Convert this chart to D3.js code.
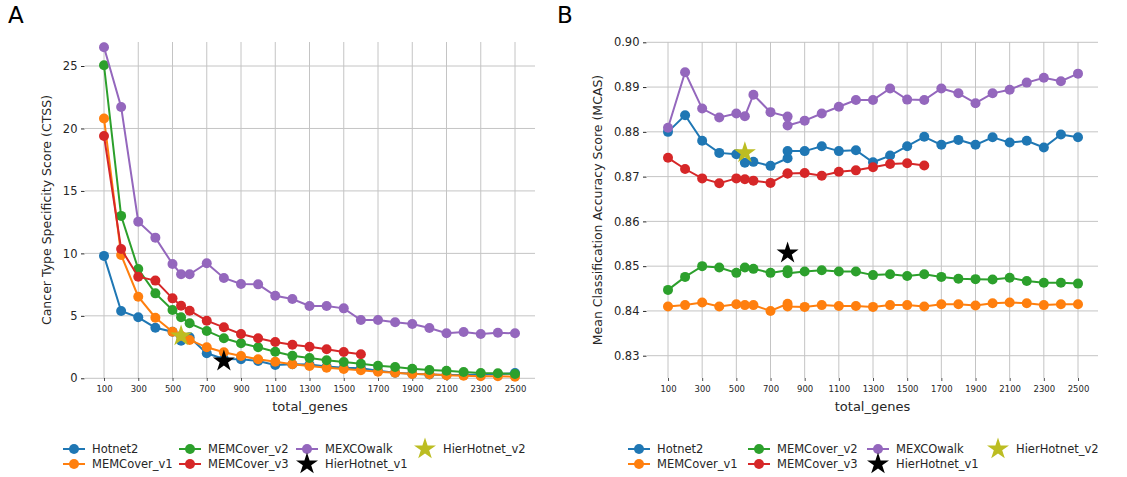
<!DOCTYPE html>
<html>
<head>
<meta charset="utf-8">
<script src="https://cdn.jsdelivr.net/npm/d3@7/dist/d3.min.js"></script>
<style>
  html, body { margin: 0; padding: 0; background: #fff; }
  svg { display: block; font-family: "DejaVu Sans", sans-serif; }
</style>
</head>
<body>
<svg id="chart" width="1127" height="477"></svg>
<script>
// ---- data ----------------------------------------------------------------
const seriesNames = ["Hotnet2", "MEMCover_v1", "MEMCover_v2", "MEMCover_v3", "MEXCOwalk"];
const seriesColors = ["#1f77b4", "#ff7f0e", "#2ca02c", "#d62728", "#9467bd"];
const starNames = ["HierHotnet_v1", "HierHotnet_v2"];
const starColors = ["#000000", "#bcbd22"];
const xTicks = [100, 300, 500, 700, 900, 1100, 1300, 1500, 1700, 1900, 2100, 2300, 2500];

// Panel A: CTSS
const genesA = [100, 200, 300, 400, 500, 550, 600, 700, 800, 900, 1000, 1100, 1200, 1300, 1400, 1500, 1600, 1700, 1800, 1900, 2000, 2100, 2200, 2300, 2400, 2500];
const ctssHotnet2 = [9.8, 5.39, 4.88, 4.05, 3.73, 3.01, 3.28, 2.0, 1.55, 1.52, 1.38, 1.06, 1.12, 1.1, 0.95, 0.85, 0.8, 0.6, 0.45, 0.36, 0.3, 0.26, 0.26, 0.3, 0.32, 0.42];
const ctssMEMCoverV1 = [20.8, 9.87, 6.53, 4.85, 3.73, 3.4, 3.07, 2.48, 2.08, 1.79, 1.52, 1.33, 1.13, 0.98, 0.85, 0.74, 0.64, 0.53, 0.45, 0.34, 0.32, 0.24, 0.21, 0.16, 0.16, 0.13];
const ctssMEMCoverV2 = [25.06, 13.0, 8.75, 6.8, 5.47, 4.88, 4.4, 3.79, 3.2, 2.8, 2.48, 2.13, 1.81, 1.63, 1.44, 1.3, 1.17, 1.01, 0.9, 0.77, 0.66, 0.61, 0.5, 0.42, 0.4, 0.34];
const ctssMEMCoverV3 = [19.4, 10.35, 8.13, 7.82, 6.4, 5.81, 5.41, 4.61, 4.08, 3.55, 3.2, 2.9, 2.68, 2.53, 2.32, 2.1, 1.92];
const ctssMEXCOwalk = [26.5, 21.72, 12.54, 11.26, 9.15, 8.33, 8.33, 9.21, 8.03, 7.55, 7.52, 6.61, 6.35, 5.79, 5.79, 5.6, 4.67, 4.67, 4.48, 4.35, 4.03, 3.6, 3.7, 3.55, 3.65, 3.6];
const ctssStarGenes = [800, 550];
const ctssStars = [1.38, 3.39];

// Panel B: MCAS (two runs at 800 genes)
const genesB = [100, 200, 300, 400, 500, 550, 600, 700, 800, 800, 900, 1000, 1100, 1200, 1300, 1400, 1500, 1600, 1700, 1800, 1900, 2000, 2100, 2200, 2300, 2400, 2500];
const mcasHotnet2 = [0.8800, 0.8837, 0.8780, 0.8753, 0.8750, 0.8731, 0.8733, 0.8724, 0.8741, 0.8757, 0.8757, 0.8768, 0.8757, 0.8759, 0.8732, 0.8747, 0.8768, 0.8789, 0.8771, 0.8782, 0.8771, 0.8788, 0.8776, 0.8780, 0.8765, 0.8794, 0.8788];
const mcasMEMCoverV1 = [0.8410, 0.8413, 0.8419, 0.8410, 0.8415, 0.8413, 0.8413, 0.8400, 0.8416, 0.8410, 0.8409, 0.8413, 0.8411, 0.8411, 0.8409, 0.8413, 0.8413, 0.8410, 0.8415, 0.8415, 0.8412, 0.8417, 0.8419, 0.8417, 0.8413, 0.8415, 0.8415];
const mcasMEMCoverV2 = [0.8447, 0.8476, 0.8500, 0.8497, 0.8485, 0.8497, 0.8494, 0.8485, 0.8491, 0.8484, 0.8488, 0.8491, 0.8488, 0.8488, 0.8480, 0.8482, 0.8478, 0.8482, 0.8476, 0.8472, 0.8471, 0.8470, 0.8474, 0.8467, 0.8463, 0.8463, 0.8461];
const mcasMEMCoverV3 = [0.8742, 0.8717, 0.8696, 0.8685, 0.8696, 0.8694, 0.8691, 0.8686, 0.8707, 0.8707, 0.8708, 0.8702, 0.8711, 0.8714, 0.8721, 0.8728, 0.8730, 0.8725];
const mcasMEXCOwalk = [0.8809, 0.8933, 0.8852, 0.8832, 0.8841, 0.8835, 0.8883, 0.8844, 0.8834, 0.8814, 0.8825, 0.8841, 0.8856, 0.8871, 0.8871, 0.8897, 0.8872, 0.8871, 0.8897, 0.8886, 0.8864, 0.8886, 0.8894, 0.8910, 0.8921, 0.8913, 0.8930];
const mcasStarGenes = [800, 550];
const mcasStars = [0.8529, 0.8753];

const ctssTicks = [0, 5, 10, 15, 20, 25];
const mcasTicks = [0.83, 0.84, 0.85, 0.86, 0.87, 0.88, 0.89, 0.90];

// ---- drawing -------------------------------------------------------------
const svg = d3.select("#chart");
const gridColor = "#c4c4c4";

function drawPanel(cfg) {
  const g = svg.append("g");
  const x = d3.scaleLinear().domain([100, 2500]).range(cfg.xRange);
  const y = d3.scaleLinear().domain(cfg.yDomain).range(cfg.yRange);

  // grid
  g.append("g").selectAll("line").data(xTicks).join("line")
    .attr("x1", d => x(d)).attr("x2", d => x(d))
    .attr("y1", cfg.top).attr("y2", cfg.bottom)
    .attr("stroke", gridColor).attr("stroke-width", 1);
  g.append("g").selectAll("line").data(cfg.yTicks).join("line")
    .attr("x1", cfg.left).attr("x2", cfg.right)
    .attr("y1", d => y(d)).attr("y2", d => y(d))
    .attr("stroke", gridColor).attr("stroke-width", 1);

  // y axis, offset to the left of the plot area
  const yAxis = d3.axisLeft(y).tickValues(cfg.yTicks).tickFormat(cfg.yFormat)
    .tickSize(3.5).tickPadding(3.5);
  const ya = g.append("g").attr("transform", `translate(${cfg.left - 0.5},0)`).call(yAxis);
  ya.select(".domain").remove();
  ya.selectAll("text").attr("font-size", 11.5).attr("fill", "#262626")
    .attr("font-family", "DejaVu Sans, sans-serif");
  ya.selectAll("line").attr("stroke", "#262626").attr("stroke-width", 1);

  // x axis below the plot area
  const xAxis = d3.axisBottom(x).tickValues(xTicks).tickFormat(d3.format("d"))
    .tickSize(3).tickPadding(5);
  const xa = g.append("g").attr("transform", `translate(0,${cfg.bottom})`).call(xAxis);
  xa.select(".domain").remove();
  xa.selectAll("text").attr("font-size", 8.5).attr("fill", "#262626")
    .attr("font-family", "DejaVu Sans, sans-serif");
  xa.selectAll("line").attr("stroke", "#262626").attr("stroke-width", 0.8);

  // titles
  g.append("text").attr("x", (cfg.left + cfg.right) / 2).attr("y", 411)
    .attr("text-anchor", "middle").attr("font-size", 13).attr("fill", "#262626")
    .text("total_genes");
  g.append("text")
    .attr("transform", `translate(${cfg.yTitleX},${(cfg.top + cfg.bottom) / 2}) rotate(-90)`)
    .attr("text-anchor", "middle").attr("font-size", 12.5).attr("fill", "#262626")
    .text(cfg.yTitle);
  g.append("text").attr("x", cfg.letterX).attr("y", 23)
    .attr("font-size", 23).attr("fill", "#000").text(cfg.letter);

  // series
  const line = d3.line().x(d => x(d[0])).y(d => y(d[1]));
  cfg.series.forEach((vals, i) => {
    const pts = vals.map((v, j) => [cfg.genes[j], v]);
    const s = g.append("g");
    s.append("path").datum(pts).attr("d", line)
      .attr("fill", "none").attr("stroke", seriesColors[i]).attr("stroke-width", 2);
    s.selectAll("circle").data(pts).join("circle")
      .attr("cx", d => x(d[0])).attr("cy", d => y(d[1])).attr("r", 5)
      .attr("fill", seriesColors[i]);
  });

  // stars
  const star = d3.symbol().type(d3.symbolStar).size(150);
  cfg.stars.forEach((v, i) => {
    g.append("path").attr("d", star)
      .attr("transform", `translate(${x(cfg.starGenes[i])},${y(v)})`)
      .attr("fill", starColors[i]);
  });

  // legend
  const leg = g.append("g");
  const order = [
    { kind: "line", idx: 0, col: 0, row: 0 },
    { kind: "line", idx: 1, col: 0, row: 1 },
    { kind: "line", idx: 2, col: 1, row: 0 },
    { kind: "line", idx: 3, col: 1, row: 1 },
    { kind: "line", idx: 4, col: 2, row: 0 },
    { kind: "star", idx: 0, col: 2, row: 1 },
    { kind: "star", idx: 1, col: 3, row: 0 }
  ];
  order.forEach(o => {
    const cx = cfg.legendCols[o.col];
    const cy = 449 + o.row * 15;
    if (o.kind === "line") {
      leg.append("line").attr("x1", cx - 11).attr("x2", cx + 11).attr("y1", cy).attr("y2", cy)
        .attr("stroke", seriesColors[o.idx]).attr("stroke-width", 2);
      leg.append("circle").attr("cx", cx).attr("cy", cy).attr("r", 5).attr("fill", seriesColors[o.idx]);
      leg.append("text").attr("x", cx + 18).attr("y", cy + 4).attr("font-size", 11.5)
        .attr("fill", "#262626").text(seriesNames[o.idx]);
    } else {
      leg.append("path").attr("d", star).attr("transform", `translate(${cx},${cy})`)
        .attr("fill", starColors[o.idx]);
      leg.append("text").attr("x", cx + 18).attr("y", cy + 4).attr("font-size", 11.5)
        .attr("fill", "#262626").text(starNames[o.idx]);
    }
  });
}

drawPanel({
  letter: "A", letterX: 8,
  left: 85, right: 535, top: 42, bottom: 378,
  xRange: [104, 515],
  yDomain: [0, 25], yRange: [378.3, 66],
  yTicks: ctssTicks, yFormat: d3.format("d"),
  yTitle: "Cancer Type Specificity Score (CTSS)", yTitleX: 51,
  genes: genesA,
  series: [ctssHotnet2, ctssMEMCoverV1, ctssMEMCoverV2, ctssMEMCoverV3, ctssMEXCOwalk],
  starGenes: ctssStarGenes, stars: ctssStars,
  legendCols: [74, 190, 307, 425]
});

drawPanel({
  letter: "B", letterX: 557,
  left: 647, right: 1098, top: 42, bottom: 378,
  xRange: [668, 1078],
  yDomain: [0.83, 0.90], yRange: [355.7, 42.3],
  yTicks: mcasTicks, yFormat: d3.format(".2f"),
  yTitle: "Mean Classification Accuracy Score (MCAS)", yTitleX: 602,
  genes: genesB,
  series: [mcasHotnet2, mcasMEMCoverV1, mcasMEMCoverV2, mcasMEMCoverV3, mcasMEXCOwalk],
  starGenes: mcasStarGenes, stars: mcasStars,
  legendCols: [639, 759, 878, 998]
});
</script>
</body>
</html>
